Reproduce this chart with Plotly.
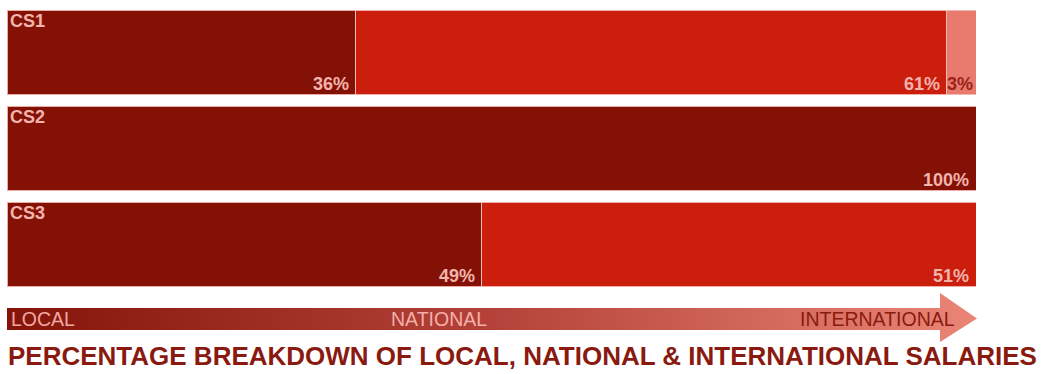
import plotly.graph_objects as go

categories = ["CS1", "CS2", "CS3"]
local_pct = [36, 100, 49]
national_pct = [61, 0, 51]
international_pct = [3, 0, 0]
series_names = ["Local", "National", "International"]
series_colors = ["#841106", "#cc1e0c", "#e87a6e"]
label_colors = ["#f2b4ac", "#f2b4ac", "#9c2218"]
arrow_labels = ["LOCAL", "NATIONAL", "INTERNATIONAL"]
title_text = "PERCENTAGE BREAKDOWN OF LOCAL, NATIONAL &amp; INTERNATIONAL SALARIES"

W, H = 1049, 374
ypos = list(range(len(categories)))
bargap = 0.115
FONT = "Liberation Sans, Arial, sans-serif"

fig = go.Figure()
series = [local_pct, national_pct, international_pct]
for name, vals, col in zip(series_names, series, series_colors):
    fig.add_trace(go.Bar(
        y=ypos, x=vals, orientation="h", name=name,
        marker=dict(color=col, line=dict(color="rgba(245,190,182,0.9)", width=1)),
        hoverinfo="skip", showlegend=False,
    ))

annotations = []
for i, cat in enumerate(categories):
    annotations.append(dict(
        x=0, y=i - (1 - bargap) / 2, xref="x", yref="y",
        text=f"<b>{cat}</b>", showarrow=False, xanchor="left", yanchor="top",
        xshift=1, yshift=1,
        font=dict(family=FONT, size=18, color="#f2b4ac"),
    ))
    cum = 0
    for s, vals in enumerate(series):
        v = vals[i]
        if v <= 0:
            continue
        cum += v
        annotations.append(dict(
            x=cum, y=i + (1 - bargap) / 2, xref="x", yref="y",
            text=f"<b>{v}%</b>", showarrow=False, xanchor="right", yanchor="bottom",
            xshift=-5 if v >= 10 else -1, yshift=-1,
            font=dict(family=FONT, size=18, color=label_colors[s]),
        ))

# gradient arrow (decoration) in pixel coordinates on a second axis pair
ax_x = [7, 940, 940, 977, 940, 940, 7, 7]
ax_y = [308, 308, 293, 318.5, 342, 330, 330, 308]
fig.add_trace(go.Scatter(
    x=ax_x, y=ax_y, xaxis="x2", yaxis="y2", mode="lines",
    fill="toself", line=dict(width=0),
    fillgradient=dict(type="horizontal",
                      colorscale=[[0, "#84140a"], [0.5, "#b4423a"], [1, "#ea8676"]]),
    hoverinfo="skip", showlegend=False,
))

for txt, x, col, anchor in zip(arrow_labels, [9, 389, 957], ["#f0a8a0", "#f4b0a8", "#8a1a10"],
                               ["left", "left", "right"]):
    annotations.append(dict(
        x=x / W, y=1 - 318.5 / H, xref="paper", yref="paper", text=txt,
        showarrow=False, xanchor=anchor, yanchor="middle",
        font=dict(family=FONT, size=19.5, color=col),
    ))

annotations.append(dict(
    x=6 / W, y=1 - 356 / H, xref="paper", yref="paper", text=f"<b>{title_text}</b>",
    showarrow=False, xanchor="left", yanchor="middle",
    font=dict(family=FONT, size=26, color="#8a1a10"),
))

fig.update_layout(
    width=W, height=H, margin=dict(l=0, r=0, t=0, b=0),
    paper_bgcolor="white", plot_bgcolor="rgba(0,0,0,0)",
    barmode="stack", bargap=bargap,
    xaxis=dict(domain=[7 / W, 976 / W], range=[0, 100], visible=False, fixedrange=True),
    yaxis=dict(domain=[1 - 292.5 / H, 1 - 4.5 / H], range=[2.5, -0.5], visible=False),
    xaxis2=dict(domain=[0, 1], range=[0, W], visible=False, anchor="y2"),
    yaxis2=dict(domain=[0, 1], range=[H, 0], visible=False, anchor="x2"),
    annotations=annotations,
)

fig.write_html("out.html")
